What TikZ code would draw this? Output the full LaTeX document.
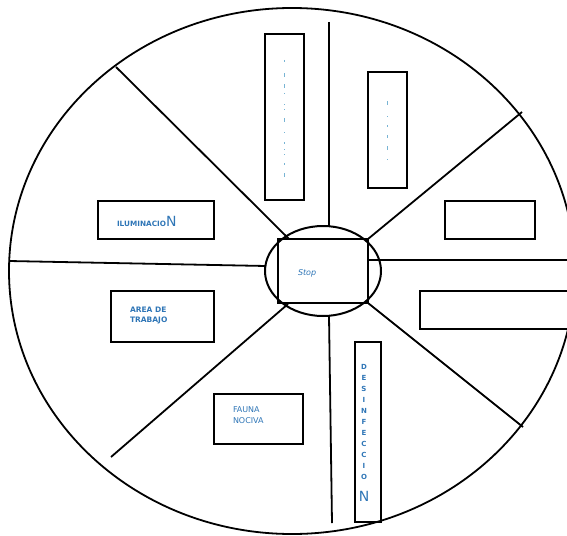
\documentclass[tikz,border=0pt]{standalone}
\usepackage{fontspec}
\setmainfont{DejaVu Sans}
\usetikzlibrary{shapes.geometric}
\definecolor{txtblue}{RGB}{46,117,182}
\definecolor{dotblue}{RGB}{120,180,212}
\begin{document}
\begin{tikzpicture}[x=1pt,y=-1pt,
  every node/.style={inner sep=0pt, outer sep=0pt},
  spoke/.style={line width=1.8pt, black},
  box/.style={draw, line width=2pt, rectangle, anchor=north west},
  lbl/.style={text=txtblue, font=\fontsize{7.5}{10.5}\selectfont, align=left, anchor=base west},
  tick/.style={dotblue, line width=0.8pt}]
\useasboundingbox (0,0) rectangle (567,535);
% outer wheel
\draw[spoke] (292,271) ellipse [x radius=283, y radius=263];
% hub
\node[draw, ellipse, line width=2pt, minimum width=116pt, minimum height=90pt] (hub) at (323,271) {};
\node[box, minimum width=90pt, minimum height=64pt] (stop) at (278,239) {};
\node[text=txtblue, font=\fontsize{8}{9}\selectfont\itshape, anchor=base west] (stoptxt) at (298,275) {Stop};
% spoke end points
\coordinate (ulo) at (116,67);   \coordinate (uli) at (289,239);
\coordinate (uvo) at (329,22);   \coordinate (uvi) at (329,226);
\coordinate (uro) at (522,112);
\coordinate (ro)  at (567,260);  \coordinate (ri)  at (368,260);
\coordinate (lro) at (523,427);
\coordinate (lvo) at (332,523);  \coordinate (lvi) at (329,316);
\coordinate (llo) at (111,457);  \coordinate (lli) at (288,304);
\coordinate (lo)  at (9,261);    \coordinate (li)  at (266,266);
\draw[spoke] (ulo) -- (uli);
\draw[spoke] (uvo) -- (uvi);
\draw[spoke] (uro) -- (stop.north east);
\draw[spoke] (ri) -- (ro);
\draw[spoke] (stop.south east) -- (lro);
\draw[spoke] (lvi) -- (lvo);
\draw[spoke] (lli) -- (llo);
\draw[spoke] (lo) -- (li);
% boxes
\node[box, minimum width=39pt, minimum height=166pt] (tall1) at (265,34) {};
\node[box, minimum width=39pt, minimum height=116pt] (tall2) at (368,72) {};
\node[box, minimum width=90pt, minimum height=38pt] (rup) at (445,201) {};
\node[box, minimum width=160pt, minimum height=38pt] (rlow) at (420,291) {};
\node[box, minimum width=116pt, minimum height=38pt] (ilum) at (98,201) {};
\node[box, minimum width=103pt, minimum height=51pt] (area) at (111,291) {};
\node[box, minimum width=89pt, minimum height=50pt] (fauna) at (214,394) {};
\node[box, minimum width=26pt, minimum height=180pt] (desin) at (355,342) {};
% faint marks
\foreach \y/\l in {60/2,73/4,84/4,93/1,104/1,109/1,118/4,132/1,142/2,149/1,154/1,163/2,173/4}
  \draw[tick] (284,\y) -- ++(0,\l);
\foreach \y/\l in {101/4,116/1,125/2,135/3,146/4,159/1}
  \draw[tick] (387,\y) -- ++(0,\l);
% labels
\node[lbl, font=\fontsize{7.3}{8}\bfseries] (ilumtxt) at (117,226) {ILUMINACIO{\fontsize{14}{14}\selectfont\mdseries N}};
\node[lbl, font=\fontsize{7.5}{10}\bfseries] (areatxt) at (130,322) {AREA DE\\TRABAJO};
\node[lbl, font=\fontsize{8}{11}\selectfont] (faunatxt) at (233,423) {FAUNA\\NOCIVA};
\node[text=txtblue, font=\fontsize{7}{11}\selectfont\bfseries, align=center, anchor=north] (desintxt) at (364,364) {D\\E\\S\\I\\N\\F\\E\\C\\C\\I\\O};
\node[text=txtblue, font=\fontsize{14}{14}\selectfont, anchor=base] (desinN) at (364,501) {N};
\end{tikzpicture}
\end{document}
